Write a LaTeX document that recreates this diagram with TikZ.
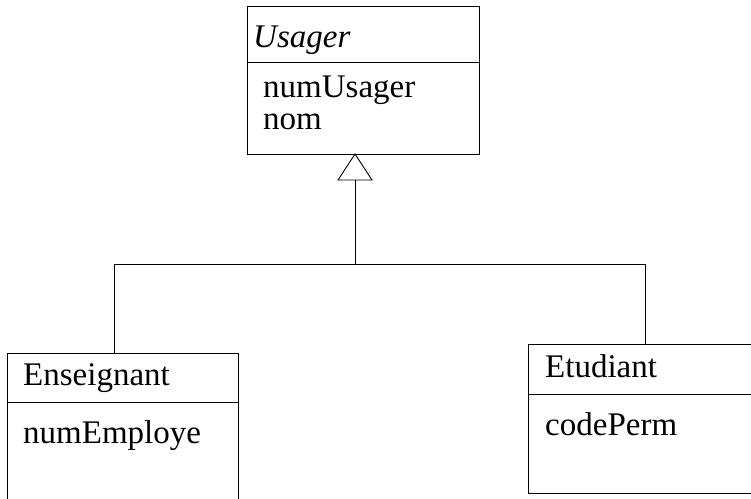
\documentclass[tikz,border=0pt]{standalone}
\usepackage{fontspec}
\setmainfont{Liberation Serif}
\begin{document}
\begin{tikzpicture}[x=1pt,y=-1pt,
  classbox/.style={draw, line width=0.9pt, inner sep=0pt, anchor=north west},
  lbl/.style={anchor=base west, inner sep=0pt, font=\fontsize{33}{39}\selectfont},
  link/.style={line width=0.9pt}]
\useasboundingbox (0,0) rectangle (751,498);

% abstract superclass
\node[classbox, minimum width=232pt, minimum height=148pt] (usager) at (247,6) {};
\draw[link] (247,62) -- (479,62);
\node[lbl, font=\fontsize{33}{39}\selectfont\itshape] (uName) at (253,47) {Usager};
\node[lbl] (uA1) at (263,97) {numUsager};
\node[lbl] (uA2) at (263,129) {nom};

% subclasses
\node[classbox, minimum width=231pt, minimum height=160pt] (ens) at (7,353) {};
\draw[link] (7,402) -- (238,402);
\node[lbl] (eName) at (23,385) {Enseignant};
\node[lbl] (eA1) at (23,443) {numEmploye};

\node[classbox, minimum width=240pt, minimum height=149pt] (etu) at (528,344) {};
\draw[link] (528,394) -- (768,394);
\node[lbl] (tName) at (545,377) {Etudiant};
\node[lbl] (tA1) at (545,435) {codePerm};

% generalization arrow
\coordinate (apex) at (355,154);
\coordinate (tribase) at (355,180);
\coordinate (join) at (355,264);
\coordinate (ensTop) at (114,353);
\coordinate (etuTop) at (645,344);
\draw[link, fill=white] (apex) -- (338,180) -- (372,180) -- cycle;
\draw[link] (tribase) -- (join);
\draw[link] (join) -| (ensTop);
\draw[link] (join) -| (etuTop);
\end{tikzpicture}
\end{document}
